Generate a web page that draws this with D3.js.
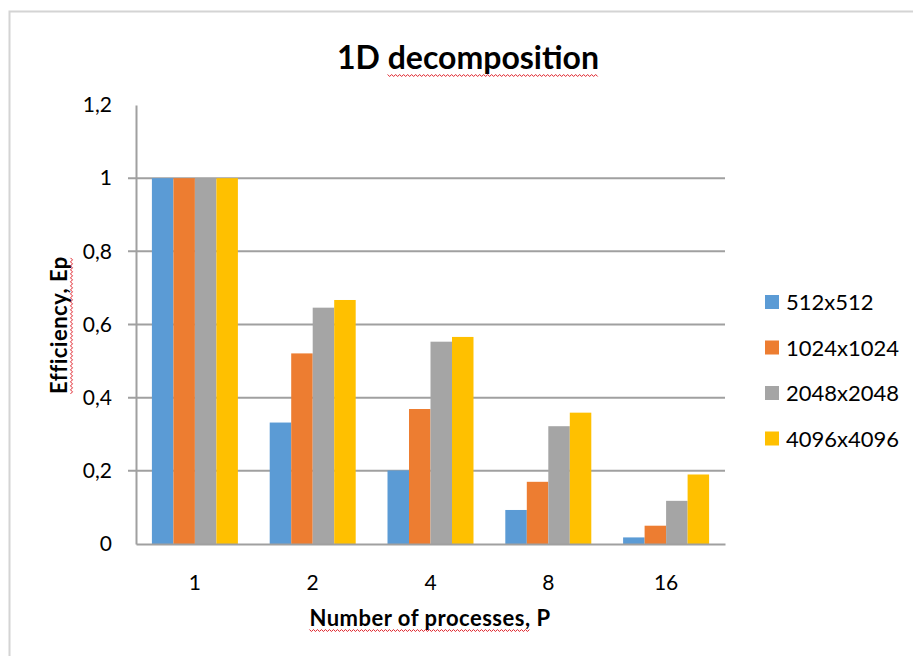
<!DOCTYPE html>
<html>
<head>
<meta charset="utf-8">
<script src="https://cdn.jsdelivr.net/npm/d3@7"></script>
<style>
  body { margin: 0; background: #fff; }
  text { font-family: Lato, "Open Sans", sans-serif; fill: #000; }
</style>
</head>
<body>
<div id="chart"></div>
<script>
// data
var processes = ['1', '2', '4', '8', '16']
var sizes = ['512x512', '1024x1024', '2048x2048', '4096x4096']
var eff512 = [1, 0.332, 0.201, 0.093, 0.018]
var eff1024 = [1, 0.521, 0.369, 0.170, 0.050]
var eff2048 = [1, 0.646, 0.553, 0.322, 0.118]
var eff4096 = [1, 0.667, 0.566, 0.359, 0.190]
var yTicks = [0, 0.2, 0.4, 0.6, 0.8, 1, 1.2]
var colors = ['#5B9BD5', '#ED7D31', '#A5A5A5', '#FFC000']

var series = [eff512, eff1024, eff2048, eff4096]

var W = 913, H = 656
var m = {left: 136, right: 188, top: 105, bottom: 112}
var w = W - m.left - m.right
var h = H - m.top - m.bottom

var svg = d3.select('#chart').append('svg')
    .attr('width', W)
    .attr('height', H)

// chart frame (only left / top edges are in view)
svg.append('path')
    .attr('d', 'M9.5,' + H + 'V11.5H' + W)
    .attr('fill', 'none')
    .attr('stroke', '#d4d4d4')
    .attr('stroke-width', 2)

var g = svg.append('g').attr('transform', 'translate(' + m.left + ',' + m.top + ')')

var x0 = d3.scaleBand().domain(processes).range([0, w]).paddingInner(0.27).paddingOuter(0.135)
var x1 = d3.scaleBand().domain(sizes).range([0, x0.bandwidth()])
var y = d3.scaleLinear().domain([0, 1.2]).range([h, 0])

// gridlines
g.append('g')
    .selectAll('line')
    .data(yTicks.filter(function(d) { return d > 0 && d < 1.2 }))
    .enter()
    .append('line')
    .attr('x1', -8)
    .attr('x2', w)
    .attr('y1', function(d) { return y(d) })
    .attr('y2', function(d) { return y(d) })
    .attr('stroke', '#a0a0a0')
    .attr('stroke-width', 2)

// bars
var groups = g.append('g')
    .selectAll('g')
    .data(processes)
    .enter()
    .append('g')
    .attr('transform', function(d) { return 'translate(' + x0(d) + ',0)' })

groups.selectAll('rect')
    .data(function(d, i) { return sizes.map(function(s, k) { return {size: s, k: k, v: series[k][i]} }) })
    .enter()
    .append('rect')
    .attr('x', function(d) { return x1(d.size) })
    .attr('width', x1.bandwidth())
    .attr('y', function(d) { return y(d.v) })
    .attr('height', function(d) { return h - y(d.v) })
    .attr('fill', function(d) { return colors[d.k] })

// y axis
var yAxis = g.append('g')
    .call(d3.axisLeft(y).tickValues(yTicks).tickSize(0).tickPadding(24)
        .tickFormat(function(d) { return String(d).replace('.', ',') }))
yAxis.select('.domain').attr('stroke', '#a0a0a0').attr('stroke-width', 2)
yAxis.selectAll('text').style('font-size', '21px').attr('fill', '#000')

// x axis
var xAxis = g.append('g')
    .attr('transform', 'translate(0,' + h + ')')
    .call(d3.axisBottom(x0).tickSize(0).tickPadding(31))
xAxis.select('.domain').attr('stroke', '#a0a0a0').attr('stroke-width', 2)
xAxis.selectAll('text').style('font-size', '21px').attr('fill', '#000')

// spell-check squiggle under part of a text
function squiggle(textSel, start, n) {
    var node = textSel.node()
    var bb = node.getBBox()
    var sx = node.getStartPositionOfChar(start).x
    var len = node.getSubStringLength(start, n)
    var yy = bb.y + bb.height - 1
    var pts = []
    for (var px = 0; px <= len; px += 2) pts.push([sx + px, yy + ((px / 2) % 2 ? 1.5 : -0.5)])
    var p = d3.select(node.parentNode).append('path')
        .attr('d', d3.line()(pts))
        .attr('fill', 'none')
        .attr('stroke', '#e0222a')
        .attr('stroke-width', 1)
    var tr = textSel.attr('transform')
    if (tr) p.attr('transform', tr)
}

// title
var title = svg.append('text')
    .attr('x', 468)
    .attr('y', 69)
    .attr('text-anchor', 'middle')
    .style('font-size', '32px')
    .style('font-weight', 'bold')
    .text('1D decomposition')
squiggle(title, 3, 13)

// axis titles
var xTitle = svg.append('text')
    .attr('x', 430)
    .attr('y', 626)
    .attr('text-anchor', 'middle')
    .style('font-size', '22px')
    .style('font-weight', 'bold')
    .style('letter-spacing', '0.5px')
    .text('Number of processes, P')
squiggle(xTitle, 0, 20)

var yTitle = svg.append('text')
    .attr('transform', 'translate(67,325) rotate(-90)')
    .attr('text-anchor', 'middle')
    .style('font-size', '22px')
    .style('font-weight', 'bold')
    .style('letter-spacing', '0.5px')
    .text('Efficiency, Ep')
squiggle(yTitle, 0, 14)

// legend
var legend = svg.append('g')
    .selectAll('g')
    .data(sizes)
    .enter()
    .append('g')
    .attr('transform', function(d, i) { return 'translate(765,' + (302 + i * 45.5) + ')' })

legend.append('rect')
    .attr('x', 0)
    .attr('y', -7)
    .attr('width', 14)
    .attr('height', 14)
    .attr('fill', function(d, i) { return colors[i] })

legend.append('text')
    .attr('x', 21)
    .attr('y', 8)
    .style('font-size', '22px')
    .text(function(d) { return d })
</script>
</body>
</html>
